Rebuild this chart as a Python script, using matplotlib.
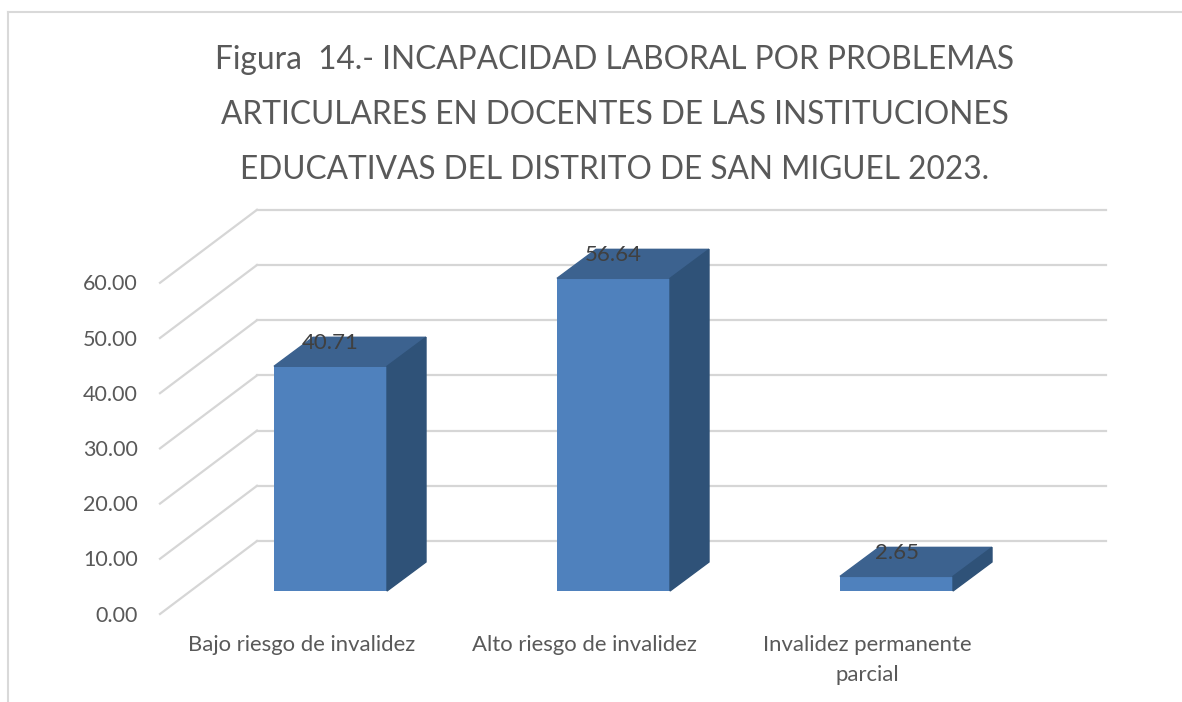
import matplotlib
matplotlib.use("Agg")
import matplotlib.pyplot as plt
from matplotlib.patches import Polygon
from matplotlib.lines import Line2D

categorias = ["Bajo riesgo de invalidez", "Alto riesgo de invalidez", "Invalidez permanente\nparcial"]
valores = [40.71, 56.64, 2.65]
ticks = [0, 10, 20, 30, 40, 50, 60]
titulo = "Figura  14.- INCAPACIDAD LABORAL POR PROBLEMAS\nARTICULARES EN DOCENTES DE LAS INSTITUCIONES\nEDUCATIVAS DEL DISTRITO DE SAN MIGUEL 2023."

W, H = 1182, 702
plt.rcParams['font.family'] = ['Lato', 'DejaVu Sans']

# escala: cada categoria 283 px, cada unidad 5.52 px (plano frontal de las barras)
px_x = 283.0
px_y = 5.52
x0_px = 330.5
y0_px = 591.0
ancho = 113 / px_x

# profundidad 3D, pasada a unidades de datos
dx_barra = 39 / px_x
dy_barra = 29 / px_y
dy_frente = -23 / px_y
dy_fondo = 50 / px_y
x_frente = (160 - x0_px) / px_x
x_fondo = (257 - x0_px) / px_x
x_fin = (1106 - x0_px) / px_x

fig = plt.figure(figsize=(W / 100, H / 100), dpi=100)
ax = fig.add_axes([0, 0, 1, 1])
ax.set_xlim(-x0_px / px_x, (W - x0_px) / px_x)
ax.set_ylim(-(H - y0_px) / px_y, y0_px / px_y)
ax.axis('off')

# borde del grafico (sin lado derecho)
borde = '#d9d9d9'
fig.add_artist(Line2D([8 / W, 8 / W], [0, 1 - 12 / H], color=borde, lw=1.5))
fig.add_artist(Line2D([8 / W, 1], [1 - 12 / H, 1 - 12 / H], color=borde, lw=1.5))

# rejilla: pared lateral y pared del fondo
for t in ticks:
    ax.plot([x_frente, x_fondo], [t + dy_frente, t + dy_fondo], color='#d6d6d6', lw=1.6)
    ax.plot([x_fondo, x_fin], [t + dy_fondo, t + dy_fondo], color='#d6d6d6', lw=1.6)
    ax.text(x_frente - 22 / px_x, t + dy_frente - 1.5 / px_y, "%.2f" % t, ha='right', va='center',
            fontsize=15.5, color='#595959')

# barras
for i, v in enumerate(valores):
    iz = i - ancho / 2
    de = i + ancho / 2
    ax.bar(i, v, width=ancho, color='#4f81bd', zorder=3)
    ax.add_patch(Polygon([(iz, v), (de, v), (de + dx_barra, v + dy_barra), (iz + dx_barra, v + dy_barra)],
                         closed=True, color='#3c628f', zorder=3))
    ax.add_patch(Polygon([(de, 0), (de, v), (de + dx_barra, v + dy_barra), (de + dx_barra, dy_barra)],
                         closed=True, color='#2f5278', zorder=3))
    ax.text(i, v + 23 / px_y, "%.2f" % v, ha='center', va='center',
            fontsize=16, color='#404040', zorder=4)

# etiquetas de categoria
for i, c in enumerate(categorias):
    partes = c.split("\n")
    ax.text(i - 29 / px_x, -(645 - y0_px) / px_y, partes[0], ha='center', va='center',
            fontsize=15.9, color='#595959')
    if len(partes) > 1:
        ax.text(i - 29 / px_x, -(675 - y0_px) / px_y, partes[1], ha='center', va='center',
                fontsize=15.9, color='#595959')

fig.text(615 / W, 1 - 115 / H, titulo, ha='center', va='center', fontsize=22.8, color='#595959',
         linespacing=2.06)

fig.savefig("out.png", dpi=100)
